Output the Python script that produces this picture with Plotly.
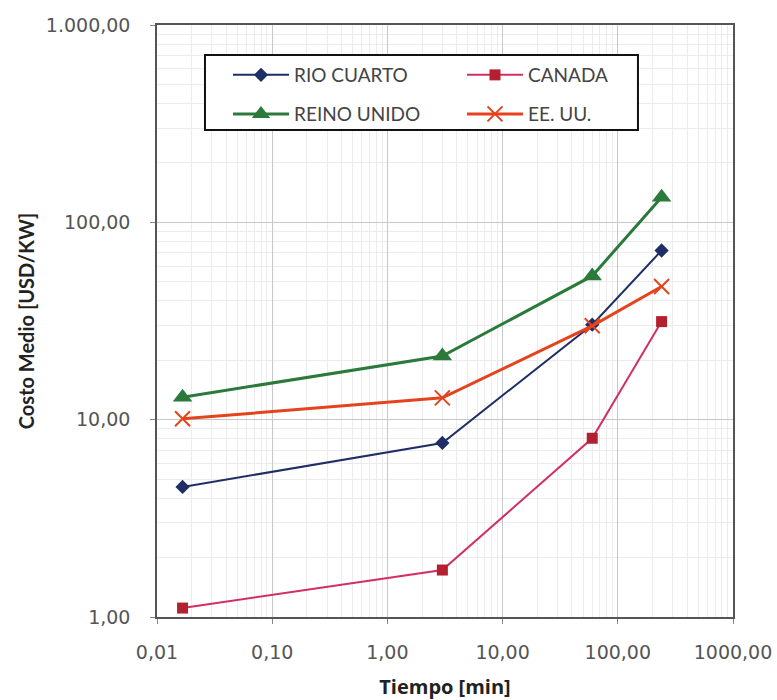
import plotly.graph_objects as go

# Duración de la interrupción [min] y costo medio [USD/KW] por región
tiempo = [1 / 60, 3, 60, 240]
rio_cuarto = [4.56, 7.62, 30.3, 72.0]
canada = [1.11, 1.73, 8.05, 31.4]
reino_unido = [13.0, 21.0, 53.5, 134.0]
ee_uu = [10.1, 12.9, 29.9, 47.3]

x_ticks = [0.01, 0.1, 1, 10, 100, 1000]
x_tick_text = ["0,01", "0,10", "1,00", "10,00", "100,00", "1000,00"]
y_ticks = [1, 10, 100, 1000]
y_tick_text = ["1,00", "10,00", "100,00", "1.000,00"]

TITLE_FONT = "Lato, 'Open Sans', sans-serif"
TICK_FONT = "'DejaVu Sans', sans-serif"


def minor_grid(lo_exp, hi_exp):
    return [m * 10.0 ** e for e in range(lo_exp, hi_exp) for m in range(2, 10)]


fig = go.Figure()

fig.add_trace(go.Scatter(
    x=tiempo, y=rio_cuarto, name="RIO CUARTO", mode="lines+markers",
    line=dict(color="#1f2f66", width=2),
    marker=dict(symbol="diamond", size=11, color="#1f2f66"),
    legend="legend",
))
fig.add_trace(go.Scatter(
    x=tiempo, y=canada, name="CANADA", mode="lines+markers",
    line=dict(color="#d22f63", width=2),
    marker=dict(symbol="square", size=11, color="#b3202f"),
    legend="legend2",
))
fig.add_trace(go.Scatter(
    x=tiempo, y=reino_unido, name="REINO UNIDO", mode="lines+markers",
    line=dict(color="#2b7a3b", width=3),
    marker=dict(symbol="triangle-up", size=17, color="#2b7a3b"),
    legend="legend3",
))
fig.add_trace(go.Scatter(
    x=tiempo, y=ee_uu, name="EE. UU.", mode="lines+markers",
    line=dict(color="#e5431d", width=3),
    marker=dict(symbol="x-thin-open", size=15, line=dict(color="#e5431d", width=2)),
    legend="legend4",
))

axis_common = dict(
    type="log",
    automargin=False,
    showline=True, mirror=True, linecolor="#555555", linewidth=1.5,
    showgrid=True, gridcolor="#c8c8c8", gridwidth=1,
    ticks="outside", ticklen=5, tickcolor="#888888",
    tickfont=dict(family=TICK_FONT, size=19, color="#555555"),
    zeroline=False,
)

fig.update_xaxes(
    **axis_common,
    range=[-2, 3],
    tickvals=x_ticks, ticktext=x_tick_text,
    ticklabelstandoff=12,
    minor=dict(tickvals=minor_grid(-2, 3), showgrid=True, gridcolor="#ececec", ticks=""),
    title=dict(text="<b>Tiempo [min]</b>", font=dict(family="'Open Sans', sans-serif", size=20, color="#222222"), standoff=18),
)
fig.update_yaxes(
    **axis_common,
    range=[0, 3],
    tickvals=y_ticks, ticktext=y_tick_text,
    ticklabelstandoff=16,
    minor=dict(tickvals=minor_grid(0, 3), showgrid=True, gridcolor="#ececec", ticks=""),
    title=dict(text="<b>Costo Medio [USD/KW]</b>", font=dict(family=TITLE_FONT, size=20, color="#222222"), standoff=6),
)

legend_common = dict(
    orientation="h", xanchor="left", yanchor="top",
    bgcolor="rgba(0,0,0,0)", borderwidth=0,
    font=dict(family=TITLE_FONT, size=19, color="#444444"),
    itemwidth=56,
)

fig.update_layout(
    width=777, height=700,
    margin=dict(l=157, r=44, t=25, b=83),
    paper_bgcolor="white", plot_bgcolor="white",
    font=dict(family=TITLE_FONT),
    showlegend=True,
    legend=dict(**legend_common, x=0.1233, y=0.9476),
    legend2=dict(**legend_common, x=0.5295, y=0.9476),
    legend3=dict(**legend_common, x=0.1233, y=0.8817),
    legend4=dict(**legend_common, x=0.5295, y=0.8817),
    shapes=[dict(
        type="rect", xref="paper", yref="paper",
        x0=0.0833, x1=0.835, y0=0.8226, y1=0.9493,
        fillcolor="white", line=dict(color="#111111", width=2), layer="above",
    )],
)

fig.write_html("out.html")
